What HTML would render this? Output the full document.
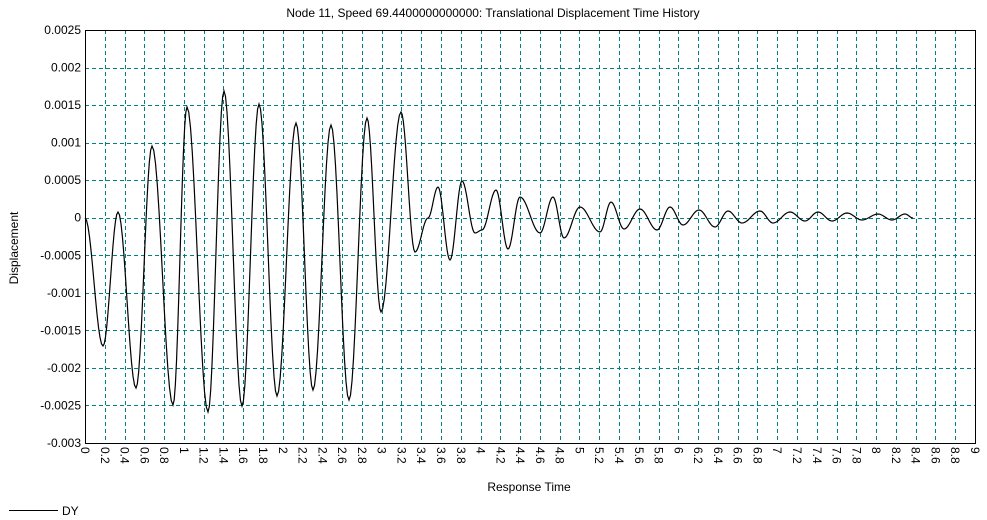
<!DOCTYPE html>
<html><head><meta charset="utf-8"><style>
body{margin:0;background:#fff;}
svg{display:block;font-family:"Liberation Sans",Arial,sans-serif;}
</style></head><body>
<svg id="s" width="987" height="520" xmlns="http://www.w3.org/2000/svg">
<rect width="987" height="520" fill="#fff"/>
<text x="493" y="17" font-size="12" text-anchor="middle">Node 11, Speed 69.4400000000000: Translational Displacement Time History</text>
<g id="grid" stroke="#008080" stroke-dasharray="4,3" stroke-width="1" shape-rendering="crispEdges"></g>
<rect x="85.5" y="30.5" width="890" height="413" fill="none" stroke="#000" shape-rendering="crispEdges"/>
<g id="lab" font-size="12"></g>
<path id="curve" fill="none" stroke="#000" stroke-width="1.2"/>
<text x="18" y="248" font-size="12" text-anchor="middle" transform="rotate(-90 18 248)">Displacement</text>
<text x="529" y="491" font-size="12" text-anchor="middle">Response Time</text>
<line x1="9" y1="510.5" x2="58" y2="510.5" stroke="#000"/>
<text x="62" y="515" font-size="12">DY</text>
</svg>
<script>
var ns="http://www.w3.org/2000/svg";
var g=document.getElementById('grid'),lab=document.getElementById('lab');
function el(p,t,a){var e=document.createElementNS(ns,t);for(var k in a)e.setAttribute(k,a[k]);p.appendChild(e);return e;}
var L=85,R=975,T=30,B=443;
for(var i=1;i<45;i++){var x=Math.round(L+i*(R-L)/45)+0.5;el(g,'line',{x1:x,y1:T,x2:x,y2:B});}
var ylabs=['0.0025','0.002','0.0015','0.001','0.0005','0','-0.0005','-0.001','-0.0015','-0.002','-0.0025','-0.003'];
for(var j=0;j<12;j++){var y=T+j*(B-T)/11;var yy=Math.round(y)+0.5;
 if(j>0&&j<11)el(g,'line',{x1:L,y1:yy,x2:R,y2:yy});
 var t=el(lab,'text',{x:81,y:y+4,'text-anchor':'end'});t.textContent=ylabs[j];}
for(var i=0;i<=45;i++){var x=L+i*(R-L)/45;var v=(i*0.2);var s=(Math.round(v*10)/10).toString();
 var t=el(lab,'text',{x:0,y:0,transform:'translate('+(x-4)+',447) rotate(90)'});t.textContent=s;}
var P=[[85,218],[103,346],[118,212],[136,388],[152,146],[173,405],[187,107],[208,412],[224,91],[242,406],[259,104],[277,396],[296,123],[313,390],[331,125],[349,400],[367,118],[381,312],[401,112],[415,252],[428,218],[438,187],[450,260],[462,181],[475,233],[482,230],[496,190],[508,249],[520,197],[540,233],[553,197],[564,238],[580,207],[600,232],[611,202],[624,229],[640,209],[657,230],[670,207],[683,225],[699,210],[715,227],[728,211],[742,223],[760,211],[773,223],[790,212],[805,221],[818,212],[832,221],[847,213],[862,220],[878,214],[892,220],[905,214],[913,218]];
var d='M'+P[0][0]+','+P[0][1];
for(var k=0;k<P.length-1;k++){var a=P[k],b=P[k+1];var n=12;
 for(var m=1;m<=n;m++){var f=m/n;var x=a[0]+(b[0]-a[0])*f;var y=a[1]+(b[1]-a[1])*(1-Math.cos(Math.PI*f))/2;d+=' L'+x.toFixed(2)+','+y.toFixed(2);}}
document.getElementById('curve').setAttribute('d',d);
</script>
</body></html>
